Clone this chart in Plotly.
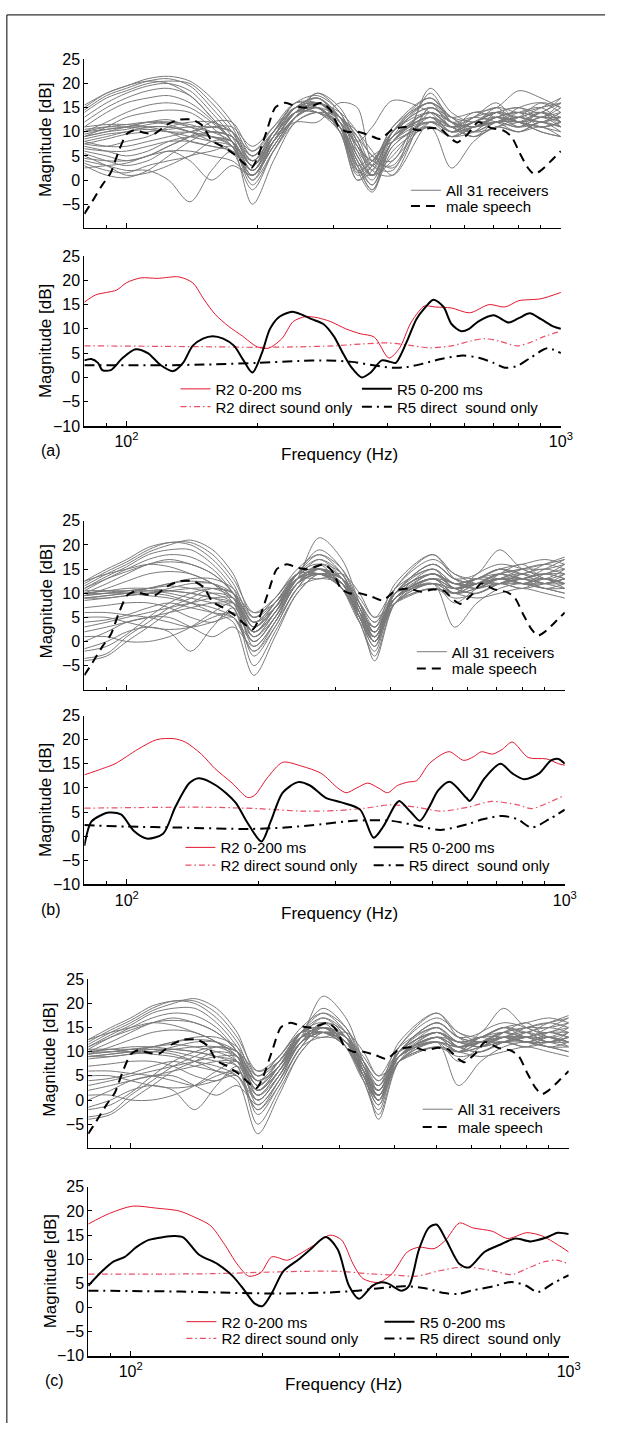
import math
import plotly.graph_objects as go

W, H = 617, 1432
FONT = "Liberation Sans, Arial, sans-serif"

# ---------------- data ----------------
GRID_HZ = [80, 90, 100, 112, 125, 140, 157, 175, 195, 218, 245, 275, 310, 340, 368, 410, 500, 560, 630, 710, 800, 900, 1000]

# panel (a): all 31 receivers (dB at GRID_HZ)
RECEIVERS_A = [
    [15, 18, 19.5, 21, 21.5, 20.5, 17, 12, 5, 10, 16, 17.5, 14, 6, 1, 8, 14, 11, 12, 14, 13, 15, 17],
    [14.5, 17.5, 19, 20.5, 21, 19.5, 15, 10, 3, 9, 15, 17, 12, 2, 1, 5, 13, 10, 13, 15, 12, 14, 16],
    [14, 17, 18.5, 20, 20.5, 20, 16, 11, 4, 10, 16, 16, 13, 8, 2, 1, 15, 12, 11, 13, 14, 13, 15],
    [13, 16, 18, 19.5, 20, 18.5, 14, 9, 2, 8, 14, 18, 14, 7, 2, 10, 16, 13, 12, 12, 15, 16, 14],
    [12, 15, 17, 18.5, 19, 17.5, 13, 8, 1, 7, 13, 16, 11, 1, 3, 11, 17, 12, 10, 14, 13, 12, 13],
    [11, 14, 16, 17, 17.5, 16, 12.5, 8, 2, 8, 14, 15, 11, 3, -2, 8, 14, 11, 13, 16, 12, 14, 12],
    [10, 12, 14, 15.5, 16, 15, 12, 8, 0, 6, 12, 14, 13, 9, 3, 2, 19, 14, 12, 15, 14, 15, 16],
    [9, 11, 13, 14, 14.5, 14, 11, 7, 1, 7, 13, 15, 10, 2, 4, 10, 15, 12, 11, 12, 11, 13, 11],
    [15.5, 18, 19.5, 20.5, 20, 17.5, 13, 8, -1, 6, 13, 16, 13, 5, 1, 9, 16, 11, 14, 13, 12, 11, 10],
    [10, 11, 11.5, 12, 11.5, 10, 9, 8, 2, 9, 15, 16, 14, 10, 5, 4, 18, 12, 10, 12, 13, 12, 14],
    [9.5, 10.5, 11, 12, 12.5, 11, 9, 7, 0, 8, 14, 17, 13, 5, 1, 8, 13, 10, 12, 14, 11, 13, 12],
    [9, 10, 10.5, 11.5, 12, 11.5, 10, 8, 3, 10, 15, 15, 10, 0, 3, 10, 14, 11, 9, 11, 12, 14, 13],
    [8.5, 9.5, 10, 11, 11, 10, 8, 6, -2, 6, 13, 18, 15, 8, 3, 9, 12, 9, 11, 13, 14, 11, 12],
    [10.5, 11, 11, 10.5, 10, 9, 8, 7, 1, 8, 14, 16, 12, 7, 4, 3, 15, 12, 13, 12, 10, 12, 11],
    [8, 9, 10, 10.5, 10, 10, 11, 10, 5, 10, 15, 16, 13, 7, 4, 11, 16, 13, 10, 11, 13, 16, 15],
    [11, 11.5, 11.5, 11, 10, 8, 7, 6, 2, 9, 14, 15, 11, 3, 5, 8, 11, 9, 12, 13, 12, 10, 9],
    [7.5, 8.5, 9.5, 10, 10.5, 11, 11, 10, 6, 11, 16, 15, 11, 5, 1, 10, 17, 13, 11, 13, 14, 13, 13],
    [9, 10, 11, 12, 12, 11, 10, 9, 4, 9, 12, 12, 16, 15, 4, 9, 13, 11, 12, 14, 15, 14, 17],
    [10, 10.5, 11, 11, 11, 10, 9, 8, 3, 9, 14, 14, 12, 8, 11, 16.5, 14, 10, 11, 12, 13, 12, 11],
    [5, 3, 1, 1.5, 3, 5, 6, 7, 4, 8, 13, 15, 13, 9, 5, 2.5, 14, 11, 10, 12, 12, 11, 12],
    [6, 5, 4, 5, 7, 9, 10, 9, 5, 10, 15, 16, 12, 4, 0, 8, 12, 10, 12, 12, 13, 14, 11],
    [4, 3, 2, 2, 0, -4.5, 2, 6, 1, 7, 13, 15, 11, 1.5, 4, 9, 13, 11, 9, 11, 10, 12, 10],
    [7, 6, 5, 6, 8, 9, 9, 7, -5, 4, 12, 14, 11, 4, -1, 7, 12, 10, 11, 13, 11, 12, 13],
    [3, 1, 0.5, 2, 5, 8, 10, 9, 4, 9, 14, 15, 11, 3, -2, 6, 11, 9, 10, 13, 12, 10, 9],
    [5.5, 4, 3, 4, 6, 4, 0, 3, 1, 8, 14, 16, 13, 10, 6, 1, 12, 11, 13, 14, 12, 13, 14],
    [8, 7, 7, 8, 9, 10, 11, 11, 7, 11, 15, 14, 11, 6, 3, 9, 14, 12, 11, 12, 14, 15, 12],
    [2.5, 3, 3.5, 5, 6, 6, 5, 4, 1, 7, 13, 15, 11, 2, -2.5, 7, 11, 2.5, 8, 11, 10, 11, 9],
    [6.5, 6, 6, 7, 8, 8, 7, 6, 2, 8, 14, 15, 10, 0, 2, 10, 15, 13, 14, 15, 18.5, 17, 15],
    [4.5, 4, 4, 5, 7, 9, 12, 12, 6, 10, 14, 14, 10, 3, -1, 8, 13, 9, 11, 12, 12, 11, 12],
    [7.5, 7, 8, 9, 11, 12, 12, 10, 3, 9, 15, 17, 13, 8, 1, 4, 12, 10, 12, 14, 15, 13, 16],
    [3.5, 2, 1.5, 3, 4, 5, 8, 8, 3, 8, 13, 16, 12, 4, 1, 10, 16, 12, 9, 12, 11, 14, 12],
]

# panels (b) and (c): all 31 receivers (dB at GRID_HZ)
RECEIVERS_BC = [
    [12.5, 15, 17, 19.5, 20.5, 20.5, 18, 13, 6, 8, 14, 19, 15, 7, 1, 9, 14, 12, 13, 15, 14, 16, 17.5],
    [12, 14.5, 16.5, 19, 20.5, 20, 17, 12, 4, 7, 13, 21.5, 17, 8, 2, 10, 16, 13, 14, 19, 15, 14, 16],
    [11.5, 14, 16, 18.5, 20, 21, 19, 14, 5, 9, 15, 18, 14, 6, 0, 8, 13, 11, 12, 14, 13, 15, 17],
    [11, 13.5, 15.5, 18, 19, 19, 16, 11, 3, 8, 14, 17, 13, 5, -1, 11, 17, 14, 12, 13, 15, 16, 15],
    [10.5, 13, 15, 17, 18, 17.5, 15, 10, 2, 6, 13, 17, 14, 7, 3, 12, 18, 13, 11, 14, 16, 13, 14],
    [10, 12, 14, 16, 16.5, 16, 14, 10, 1, 5, 12, 16, 13, 5, 0, 10, 15, 11, 13, 15, 14, 12, 13],
    [12.5, 14, 15, 16, 15.5, 14, 12, 8, 0, 5, 12, 15, 12, 4, -2, 9, 13, 10, 12, 14, 12, 14, 15],
    [9.5, 11, 12.5, 14, 14.5, 14, 12, 9, -1, 4, 11, 16, 14, 6, 1, 8, 12, 8, 11, 13, 13, 12, 12],
    [11, 13, 14.5, 16, 17, 16, 14, 10, 3, 7, 14, 18, 15, 8, 2, 10, 14, 12, 13, 15, 16, 17, 16],
    [10, 10.5, 10.5, 10.5, 10, 9, 8, 7, -3, 3, 11, 15, 13, 6, 1, 9, 12, 11, 12, 12, 13, 11, 12],
    [9.5, 10, 10, 10.5, 10.5, 10, 9, 7, -5, 2, 10, 14, 12, 5, -1, 8, 11, 10, 13, 13, 12, 13, 11],
    [9, 9.5, 10, 10, 9.5, 8, 6, 4, -7, 1, 10, 14, 13, 7, 0, 9, 13, 12, 11, 12, 11, 12, 13],
    [10.5, 10.5, 10, 9.5, 9, 8, 7, 5, -2, 4, 12, 15, 13, 6, -4, 8, 14, 11, 10, 12, 14, 15, 14],
    [9.5, 10, 10.5, 11, 11.5, 11, 10, 8, 0, 5, 13, 15, 12, 5, 0, 10, 16, 13, 12, 13, 12, 11, 10],
    [10, 10.5, 11, 11, 10.5, 10, 9, 8, 2, 7, 14, 16, 11, 4, 1, 11, 18, 14, 13, 15, 13, 13, 12],
    [9, 9, 9.5, 10, 10.5, 11, 11, 9, 1, 6, 13, 14, 12, 8, 4, 9, 12, 3, 8, 11, 12, 11, 10],
    [8.5, 9, 9.5, 10, 11, 12, 12, 10, 4, 8, 14, 15, 11, 5, 2, 10, 14, 11, 12, 14, 15, 16, 17],
    [10, 10, 10.5, 11, 12, 13, 13, 11, 5, 8, 13, 13, 14, 10, 5, 8, 11, 10, 9, 10, 11, 10, 9],
    [9, 9.5, 10, 11, 12, 12.5, 12, 9, 2, 6, 12, 14, 12, 6, 2, 9, 15, 12, 13, 12, 13, 14, 13],
    [-4, -3, 0, 3, 6, 8, 10, 9, 3, 7, 13, 14, 12, 7, 1, 9, 13, 11, 12, 13, 12, 13, 12],
    [-3.5, -2.5, 1, 4, 7, 9, 11, 10, 4, 7, 13, 15, 11, 5, 0, 9, 12, 10, 11, 13, 14, 12, 14],
    [-1.5, 0, 2, 3, 2, -2, 3, 7, 2, 7, 13, 14, 11, 6, 2, 10, 14, 11, 10, 12, 11, 13, 12],
    [0, 2, 4, 5, 5, 3, 1, 3, -1, 4, 12, 14, 11, 4, -3, 8, 12, 10, 12, 13, 13, 14, 13],
    [2, 3, 4, 5, 6, 7, 8, 8, 4, 8, 14, 15, 12, 6, 3, 10, 14, 12, 11, 13, 12, 11, 11],
    [3, 4, 5, 6, 7, 8, 9, 9, 5, 9, 14, 14, 12, 7, 2, 9, 13, 11, 12, 12, 14, 13, 15],
    [5, 5, 4, 3, 2.5, 3, 5, 6, 2, 6, 12, 14, 12, 5, 0, 9, 13, 10, 11, 12, 12, 12, 13],
    [6, 6, 5.5, 5, 4, 3, 4, 5, -2, 3, 11, 13, 12, 8, 4, 10, 12, 11, 13, 14, 13, 12, 11],
    [1, 1, 0, 0, 1, 3, 6, 8, 3, 7, 13, 15, 12, 6, 1, 8, 11, 9, 10, 12, 13, 14, 14],
    [7, 7.5, 8, 8, 7, 5, 4, 6, 1, 6, 13, 15, 13, 9, 5, 11, 15, 12, 12, 13, 12, 12, 13],
    [4, 4.5, 5.5, 7, 8, 7, 6, 5, 0, 5, 12, 14, 13, 8, 3, 9, 13, 10, 14, 16, 15, 13, 12],
    [-2, -1, 1.5, 5, 8, 10, 11, 10, 6, 9, 14, 14, 11, 5, 1, 10, 16, 13, 12, 14, 15, 15, 16],
]

# male speech spectrum (same in all three panels)
SPEECH_HZ = [80, 84, 88, 92, 96, 100, 104, 110, 116, 124, 132, 142, 150, 157, 166, 176, 188, 194, 200, 210, 220, 232, 245, 258, 270, 282, 295, 308, 322, 340, 362, 384, 410, 440, 470, 500, 530, 560, 578, 610, 645, 690, 740, 770, 805, 840, 868, 900, 950, 1000]
SPEECH_DB = [-7, -4, -1, 1.5, 6, 9.5, 10.3, 9.8, 9.6, 11.5, 12.5, 12.5, 11.2, 8.2, 7, 5.5, 3.2, 2.5, 4.5, 10, 15, 16, 15.3, 15, 15.5, 16, 14.5, 11, 10, 10, 9.3, 8.5, 10.5, 11, 10.3, 10.8, 10.5, 8.5, 7.8, 9.5, 12, 10.8, 10.2, 9, 5.5, 2.5, 1.2, 2, 4, 6]

# panel (a) lower
A_R2_HZ = [80, 85, 90, 95, 100, 108, 118, 132, 142, 151, 160, 172, 185, 200, 212, 228, 242, 258, 275, 295, 320, 345, 372, 402, 425, 450, 470, 485, 515, 560, 617, 684, 743, 800, 845, 900, 1000]
A_R2_DB = [15.5, 17, 17.5, 18, 19.5, 20.5, 20.4, 20.7, 19.5, 16, 13, 10.5, 8.5, 6.3, 6, 8, 11.5, 12.5, 12.3, 11.5, 10, 9, 8.3, 4, 6, 11, 13.5, 14.7, 14.5, 14.3, 13.3, 15, 14.5, 15.8, 16, 16.2, 17.5]
A_R5_HZ = [80, 83, 86, 88, 92, 98, 105, 112, 120, 128, 135, 142, 150, 158, 167, 177, 186, 195, 205, 214, 225, 241, 255, 267, 284, 300, 315, 330, 348, 365, 387, 405, 417, 430, 445, 465, 483, 509, 537, 560, 590, 615, 645, 700, 759, 800, 848, 900, 960, 1000]
A_R5_DB = [3.5, 3.8, 3, 1.5, 1.5, 4, 5.8, 5, 2.5, 1.3, 3, 6.5, 8, 8.5, 8, 6.5, 3.5, 1, 5, 10, 12.5, 13.5, 12.8, 12, 11, 8.5, 5, 2, 0, 1, 3.5, 3.2, 3, 5, 8, 12, 14, 16, 14.5, 11, 9.5, 10, 11.5, 12.8, 11.3, 12.2, 13.2, 12, 10.5, 10]
A_R2D_HZ = [80, 120, 160, 200, 250, 300, 350, 400, 450, 500, 560, 620, 670, 720, 793, 850, 920, 1000]
A_R2D_DB = [6.5, 6.4, 6.3, 6.2, 6.3, 6.5, 6.9, 7.1, 6.6, 6.1, 6.5, 7.5, 8, 7.5, 6.5, 7.2, 8.5, 9.5]
A_R5D_HZ = [80, 120, 160, 200, 250, 290, 330, 370, 410, 440, 480, 530, 595, 650, 700, 743, 790, 850, 930, 1000]
A_R5D_DB = [2.5, 2.5, 2.7, 3.0, 3.4, 3.5, 3.2, 2.5, 2.0, 2.1, 2.8, 3.8, 4.5, 4, 3, 2, 2.3, 4, 6, 5]

# panel (b) lower
B_R2_HZ = [80, 88, 94, 106, 117, 128, 136, 148, 159, 174, 189, 196, 209, 227, 251, 278, 303, 317, 335, 355, 375, 394, 415, 438, 459, 490, 525, 546, 588, 620, 645, 684, 720, 759, 825, 910, 968, 1000]
B_R2_DB = [12.7, 14, 15, 18, 20, 20.2, 19.5, 17, 14, 11, 8, 8.5, 12, 15.3, 14.5, 13, 10, 9, 10, 11, 10, 9, 10.5, 11.2, 11.5, 15, 17, 17.5, 15.7, 16.5, 17.5, 17, 18, 19.5, 16.3, 16, 15, 14.7]
B_R5_HZ = [80, 83, 88, 91, 97, 104, 111, 121, 129, 139, 146, 160, 177, 188, 203, 213, 227, 246, 262, 284, 309, 341, 366, 385, 410, 419, 445, 467, 490, 514, 546, 595, 607, 656, 713, 759, 808, 874, 930, 968, 1000]
B_R5_DB = [-2, 3, 4.5, 4.9, 4.5, 1, -0.5, 0.5, 6, 11, 12, 10.5, 7, 3, -1.1, 3, 9, 11.2, 10.5, 8, 7, 5.5, -0.3, 2, 6.5, 7.3, 5, 3.2, 6, 9.5, 11.3, 8, 7.3, 12, 15, 13, 11.8, 13, 15.7, 16, 15]
B_R2D_HZ = [80, 150, 200, 250, 300, 350, 400, 460, 520, 600, 680, 780, 840, 920, 1000]
B_R2D_DB = [5.8, 6.0, 5.7, 5.2, 5.3, 5.8, 6.5, 6.0, 5.2, 6.0, 7.2, 6.5, 5.7, 7.0, 8.5]
B_R5D_HZ = [80, 100, 130, 190, 230, 280, 330, 400, 470, 520, 600, 650, 720, 780, 840, 920, 1000]
B_R5D_DB = [2.3, 2.0, 1.8, 1.5, 1.8, 2.5, 3.2, 3.2, 2.0, 1.3, 2.5, 3.5, 4.2, 3.5, 1.8, 3.5, 5.5]

# panel (c) lower
C_R2_HZ = [80, 89.5, 101, 114, 129, 140, 152, 164, 175, 186, 198, 210, 228, 242, 263, 285, 303, 322, 339, 368, 395, 428, 455, 493, 524, 563, 604, 669, 725, 803, 871, 944, 1000]
C_R2_DB = [17.3, 19.5, 21, 20.6, 20, 18.7, 17, 13, 9, 6.5, 7.2, 10.5, 9.8, 11, 13, 15, 14, 9, 6, 5.2, 7, 11.5, 12.5, 12.2, 14, 17.5, 16.5, 15.8, 14.3, 15.5, 14.8, 13, 11.5]
C_R5_HZ = [80, 86, 91.3, 97, 103, 110, 119, 126, 132, 143, 158, 171, 182, 192, 200, 210, 223, 242, 257, 279, 297, 315, 332, 356, 371, 386, 415, 432, 455, 479, 499, 525, 563, 592, 642, 697, 755, 819, 889, 944, 1000]
C_R5_DB = [4.5, 7.5, 9.5, 10.5, 12.5, 14, 14.6, 14.8, 14.5, 11, 9, 6.5, 3.5, 0.8, 0.3, 3, 7.5, 10, 12, 14.6, 12, 4.5, 1.8, 4.5, 5.2, 5, 3.5, 4.5, 12, 16.5, 17.2, 14, 9, 8.3, 11.5, 13, 14.3, 13.7, 14.5, 15.5, 15.2]
C_R2D_HZ = [80, 150, 200, 250, 300, 350, 400, 450, 500, 560, 600, 680, 740, 800, 880, 940, 1000]
C_R2D_DB = [6.9, 7.0, 7.3, 7.5, 7.5, 7.0, 6.7, 6.5, 7.5, 8.3, 8.3, 7.5, 6.8, 8.0, 9.5, 9.8, 9.0]
C_R5D_HZ = [80, 130, 180, 220, 280, 330, 370, 420, 470, 520, 560, 600, 680, 740, 800, 850, 920, 1000]
C_R5D_DB = [3.5, 3.3, 3.0, 2.9, 3.1, 3.5, 4.0, 4.4, 4.0, 3.0, 2.8, 3.5, 4.5, 5.3, 4.5, 3.2, 5.0, 6.7]

X_MAJOR = [100, 1000]
X_MAJOR_TEXT = ["10<sup>2</sup>", "10<sup>3</sup>"]
X_MINOR = [90, 200, 300, 400, 500, 600, 700, 800, 900]
Y_TICKS_TOP = [-5, 0, 5, 10, 15, 20, 25]
Y_TICKS_BOT = [-10, -5, 0, 5, 10, 15, 20, 25]

# ---------------- layout helpers (pixel boxes) ----------------
def px(x):
    return x / W

def py(y):
    return 1 - y / H

# (x0, x1, y_top, y_bottom) in pixels
BOXES = [
    (86, 572, 52, 223),
    (86, 572, 251, 423),
    (86, 576, 519, 690),
    (86, 576, 716, 887),
    (90, 580, 983, 1154),
    (90, 580, 1193, 1364),
]

GRAY = "#7a7a7a"
RED = "#e2162e"
RED_LIGHT = "#ea4f66"

fig = go.Figure()
layout = dict(
    width=W, height=H, margin=dict(l=0, r=0, t=0, b=0),
    paper_bgcolor="white", plot_bgcolor="white",
    font=dict(family=FONT, size=16, color="black"),
    showlegend=True,
)

annotations = []

for i, (x0, x1, yt, yb) in enumerate(BOXES):
    n = i + 1
    xa = "xaxis" if n == 1 else f"xaxis{n}"
    ya = "yaxis" if n == 1 else f"yaxis{n}"
    bottom = (i % 2 == 1)
    xcfg = dict(
        type="log", range=[math.log10(80), 3], domain=[px(x0), px(x1)],
        anchor=f"y{'' if n == 1 else n}",
        showline=True, linecolor="black", linewidth=2 if bottom else 1.3,
        ticks="inside", ticklen=5, tickcolor="black", tickwidth=1,
        tickmode="array", tickvals=X_MAJOR,
        showticklabels=bottom, tickfont=dict(size=16),
        minor=dict(tickmode="array", tickvals=X_MINOR, ticks="inside", ticklen=3,
                   tickcolor="black", showgrid=False),
        showgrid=False, zeroline=False, fixedrange=True,
    )
    if bottom:
        xcfg["ticktext"] = X_MAJOR_TEXT
    layout[xa] = xcfg
    layout[ya] = dict(
        range=[-10, 25], domain=[py(yb), py(yt)],
        anchor=f"x{'' if n == 1 else n}",
        showline=True, linecolor="black", linewidth=1,
        ticks="inside", ticklen=4, tickcolor="black",
        tickmode="array", tickvals=Y_TICKS_BOT if bottom else Y_TICKS_TOP,
        tickfont=dict(size=16), showgrid=False, zeroline=False, fixedrange=True,
    )
    annotations.append(dict(
        text="Magnitude [dB]", textangle=-90, x=px(x0 - 39), y=py((yt + yb) / 2 - (4 if not bottom else 0)),
        xref="paper", yref="paper", showarrow=False, font=dict(size=17),
        xanchor="center", yanchor="middle"))

for (x0, x1, yt, yb), letter in zip([BOXES[1], BOXES[3], BOXES[5]], ["(a)", "(b)", "(c)"]):
    annotations.append(dict(text="Frequency (Hz)", x=px(x0 + 260), y=py(yb + 29),
                            xref="paper", yref="paper", showarrow=False,
                            font=dict(size=17), xanchor="center", yanchor="middle"))
    annotations.append(dict(text=letter, x=px(x0 - 34), y=py(yb + 25),
                            xref="paper", yref="paper", showarrow=False,
                            font=dict(size=16), xanchor="center", yanchor="middle"))

# figure frame (left and top edge)
layout["shapes"] = [
    dict(type="line", xref="paper", yref="paper", x0=px(7), x1=px(7), y0=0, y1=py(7),
         line=dict(color="black", width=1)),
    dict(type="line", xref="paper", yref="paper", x0=px(7), x1=1, y0=py(7), y1=py(7),
         line=dict(color="black", width=1)),
]
layout["annotations"] = annotations

# one legend per legend row: (x of legend box, y of row centre)
LEG_POS = {
    "legend":   (414, 187),  "legend2":  (414, 203),
    "legend3":  (179, 388),  "legend4":  (179, 406),
    "legend5":  (364, 388),  "legend6":  (364, 406),
    "legend7":  (420, 654),  "legend8":  (420, 671),
    "legend9":  (184, 852),  "legend10": (184, 870),
    "legend11": (376, 852),  "legend12": (376, 870),
    "legend13": (426, 1117), "legend14": (426, 1135),
    "legend15": (185, 1332), "legend16": (185, 1349),
    "legend17": (387, 1332), "legend18": (387, 1349),
}
for k, (x, y) in LEG_POS.items():
    layout[k] = dict(x=px(x), y=py(y - 19), xanchor="left", yanchor="top",
                     bgcolor="rgba(0,0,0,0)", borderwidth=0,
                     font=dict(family=FONT, size=15), itemwidth=30,
                     tracegroupgap=0, itemclick=False, itemdoubleclick=False)

# ---------------- traces ----------------
def ax(n):
    return ("x" if n == 1 else f"x{n}"), ("y" if n == 1 else f"y{n}")

top_sets = [(1, RECEIVERS_A, "legend", "legend2"),
            (3, RECEIVERS_BC, "legend7", "legend8"),
            (5, RECEIVERS_BC, "legend13", "legend14")]
for n, rows, leg_r, leg_s in top_sets:
    xr, yr = ax(n)
    for j, row in enumerate(rows):
        fig.add_trace(go.Scatter(
            x=GRID_HZ, y=row, mode="lines", xaxis=xr, yaxis=yr,
            line=dict(color=GRAY, width=1, shape="spline", smoothing=0.9),
            name="All 31 receivers", legendgroup=f"rcv{n}", showlegend=(j == 0), legend=leg_r,
            hoverinfo="skip"))
    fig.add_trace(go.Scatter(
        x=SPEECH_HZ, y=SPEECH_DB, mode="lines", xaxis=xr, yaxis=yr,
        line=dict(color="black", width=2, dash="9px,6px", shape="spline", smoothing=0.6),
        name="male speech", showlegend=True, legend=leg_s, hoverinfo="skip"))

bottom_sets = [
    (2, (A_R2_HZ, A_R2_DB), (A_R2D_HZ, A_R2D_DB), (A_R5_HZ, A_R5_DB), (A_R5D_HZ, A_R5D_DB), "legend3", "legend4", "legend5", "legend6"),
    (4, (B_R2_HZ, B_R2_DB), (B_R2D_HZ, B_R2D_DB), (B_R5_HZ, B_R5_DB), (B_R5D_HZ, B_R5D_DB), "legend9", "legend10", "legend11", "legend12"),
    (6, (C_R2_HZ, C_R2_DB), (C_R2D_HZ, C_R2D_DB), (C_R5_HZ, C_R5_DB), (C_R5D_HZ, C_R5D_DB), "legend15", "legend16", "legend17", "legend18"),
]
for n, r2, r2d, r5, r5d, l1, l2, l3, l4 in bottom_sets:
    xr, yr = ax(n)
    fig.add_trace(go.Scatter(x=r2d[0], y=r2d[1], mode="lines", xaxis=xr, yaxis=yr,
                             line=dict(color=RED_LIGHT, width=1.2, dash="6px,3px,1.5px,3px", shape="spline", smoothing=0.8),
                             name="R2 direct sound only", legend=l2, hoverinfo="skip"))
    fig.add_trace(go.Scatter(x=r5d[0], y=r5d[1], mode="lines", xaxis=xr, yaxis=yr,
                             line=dict(color="black", width=2, dash="10px,5px,2px,5px", shape="spline", smoothing=0.8),
                             name="R5 direct\u00a0 sound only", legend=l4, hoverinfo="skip"))
    fig.add_trace(go.Scatter(x=r2[0], y=r2[1], mode="lines", xaxis=xr, yaxis=yr,
                             line=dict(color=RED, width=1, shape="spline", smoothing=0.8),
                             name="R2 0-200 ms", legend=l1, hoverinfo="skip"))
    fig.add_trace(go.Scatter(x=r5[0], y=r5[1], mode="lines", xaxis=xr, yaxis=yr,
                             line=dict(color="black", width=2, shape="spline", smoothing=0.8),
                             name="R5 0-200 ms", legend=l3, hoverinfo="skip"))

fig.update_layout(**layout)
fig.write_html("out.html", config={"displayModeBar": False},
               post_script="document.body.style.margin='0';document.body.style.overflow='hidden';")
